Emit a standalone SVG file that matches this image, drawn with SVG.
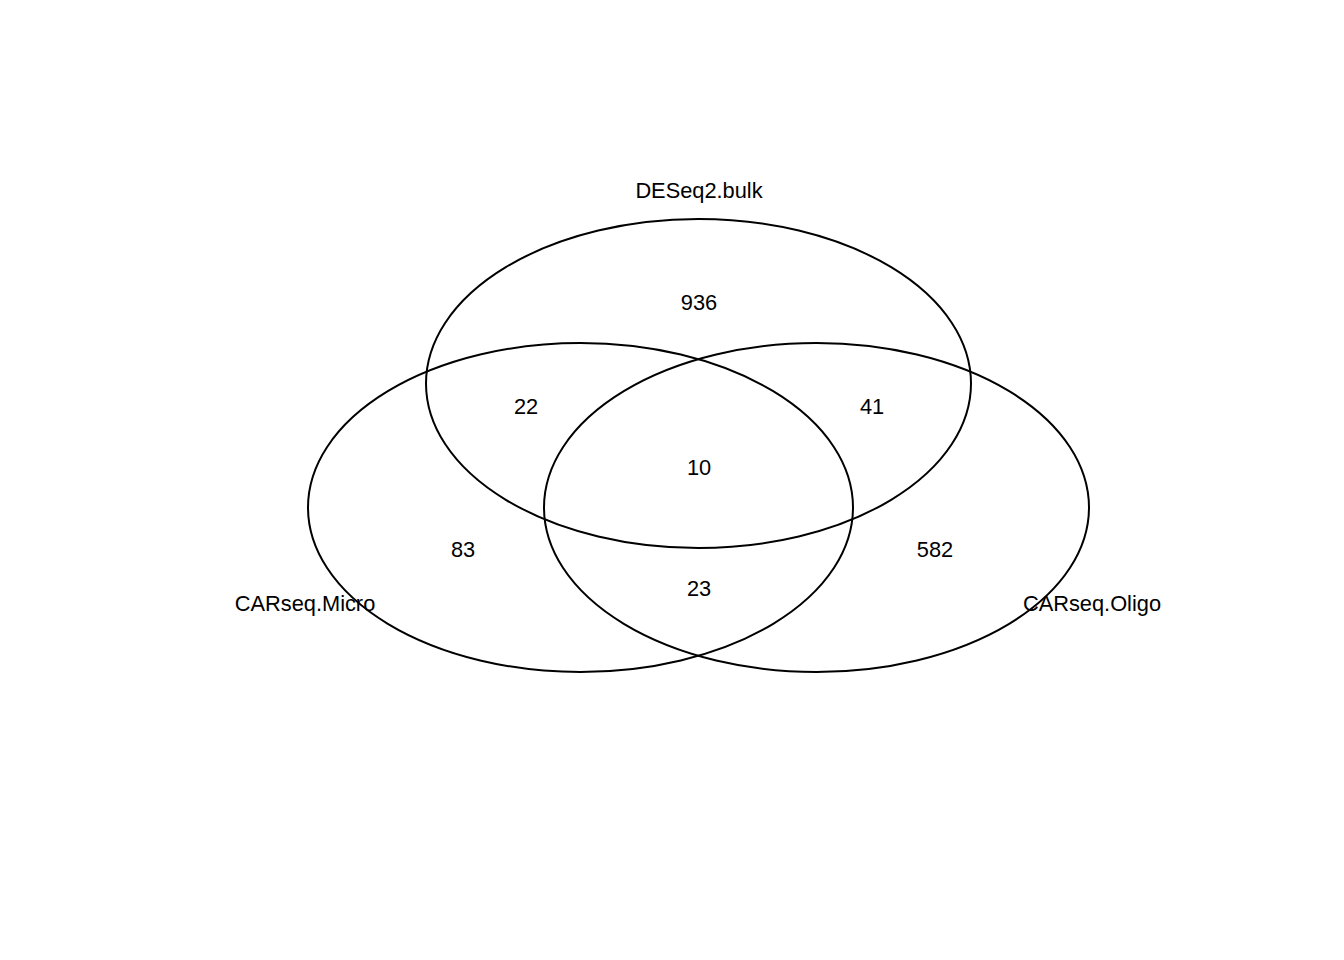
<svg xmlns="http://www.w3.org/2000/svg" width="1344" height="960" viewBox="0 0 1344 960">
  <style>
    .set { fill: none; stroke: #000; stroke-width: 2; }
    .lbl { font-family: "Liberation Sans", Arial, sans-serif; font-size: 21.8px; fill: #000; text-anchor: middle; }
  </style>
  <rect width="1344" height="960" fill="#fff"/>
  <g id="sets">
    <g id="set-deseq2-bulk">
      <ellipse class="set" cx="698.5" cy="383.5" rx="272.5" ry="164.5"/>
      <text class="lbl" x="699" y="198">DESeq2.bulk</text>
    </g>
    <g id="set-carseq-micro">
      <ellipse class="set" cx="580.5" cy="507.5" rx="272.5" ry="164.5"/>
      <text class="lbl" x="305" y="611">CARseq.Micro</text>
    </g>
    <g id="set-carseq-oligo">
      <ellipse class="set" cx="816.5" cy="507.5" rx="272.5" ry="164.5"/>
      <text class="lbl" x="1092" y="611">CARseq.Oligo</text>
    </g>
  </g>
  <g id="counts">
    <text class="lbl" x="699" y="310">936</text>
    <text class="lbl" x="526" y="414">22</text>
    <text class="lbl" x="872" y="414">41</text>
    <text class="lbl" x="699" y="475">10</text>
    <text class="lbl" x="463" y="557">83</text>
    <text class="lbl" x="935" y="557">582</text>
    <text class="lbl" x="699" y="596">23</text>
  </g>
</svg>
